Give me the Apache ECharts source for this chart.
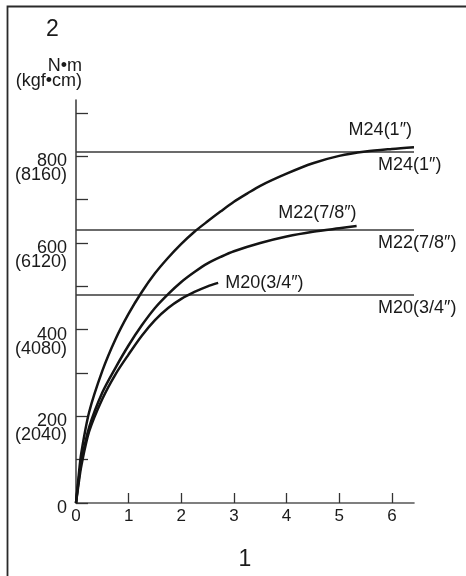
<!DOCTYPE html>
<html>
<head>
<meta charset="utf-8">
<script src="https://cdn.jsdelivr.net/npm/echarts@6/dist/echarts.min.js"></script>
<style>
html,body{margin:0;padding:0;background:#fff;}
#chart{width:466px;height:576px;}
</style>
</head>
<body>
<div id="chart"></div>
<script>
// ---- data ----
const xTicks = [0, 1, 2, 3, 4, 5, 6];
const xMax = 6.42;
const yTicks = [0, 100, 200, 300, 400, 500, 600, 700, 800, 900];
const yLabelValues = [0, 200, 400, 600, 800];
const kgfLabels = ['', '2040', '4080', '6120', '8160'];
const yMax = 930;

const curveNames = ['M24(1″)', 'M22(7/8″)', 'M20(3/4″)'];
const m24X = [0, 0.05, 0.1, 0.25, 0.5, 0.75, 1, 1.25, 1.5, 1.75, 2, 2.25, 2.5, 2.75, 3, 3.25, 3.5, 4, 4.5, 5, 5.5, 6, 6.42];
const m24Y = [0, 62, 115, 210, 305, 378, 437, 487, 530, 566, 598, 626, 650, 673, 695, 714, 732, 760, 784, 801, 811, 817, 821];
const m22X = [0, 0.05, 0.1, 0.25, 0.5, 0.75, 1, 1.25, 1.5, 1.75, 2, 2.25, 2.5, 2.75, 3, 3.5, 4, 4.5, 5, 5.33];
const m22Y = [0, 52, 95, 175, 255, 312, 364, 410, 450, 482, 510, 533, 553, 568, 581, 600, 615, 626, 634, 639];
const m20X = [0, 0.05, 0.1, 0.25, 0.5, 0.75, 1, 1.25, 1.5, 1.75, 2, 2.25, 2.5, 2.7];
const m20Y = [0, 45, 85, 165, 240, 297, 343, 386, 422, 450, 471, 487, 500, 508];

const limitNames = ['M24(1″)', 'M22(7/8″)', 'M20(3/4″)'];
const limitValues = [810, 630, 480];

const xTitle = '1';
const yTitle = 'N•m\n(kgf•cm)';
const chartTitle = '2';

// ---- build ----
const FONT = '"Liberation Sans", Arial, sans-serif';
const TXT = '#1a1a1a';
const zip = (xs, ys) => xs.map((x, i) => [x, ys[i]]);

const curveSets = [zip(m24X, m24Y), zip(m22X, m22Y), zip(m20X, m20Y)];
const curveLabelStyles = [
  { align: 'right', verticalAlign: 'bottom', distance: 0, padding: [0, 2, 8, 0] },
  { align: 'right', verticalAlign: 'bottom', distance: 0, padding: [0, 0, 4, 0] },
  { align: 'left', verticalAlign: 'middle', distance: 7, padding: [0, 0, 3, 0] }
];

const series = [];
curveSets.forEach((d, i) => {
  series.push({
    type: 'line', name: curveNames[i], data: d,
    smooth: 0.3, showSymbol: false, symbol: 'none',
    lineStyle: { color: '#141414', width: 2.5 },
    silent: true, z: 3,
    endLabel: Object.assign({
      show: true, formatter: curveNames[i],
      color: TXT, fontFamily: FONT, fontSize: 18
    }, curveLabelStyles[i])
  });
});
limitValues.forEach((v, i) => {
  series.push({
    type: 'line', name: limitNames[i] + ' limit', data: [[0, v], [xMax, v]],
    showSymbol: false, symbol: 'none',
    lineStyle: { color: '#3a3a3a', width: 1.3 },
    silent: true, z: 2,
    endLabel: {
      show: true, formatter: limitNames[i],
      color: TXT, fontFamily: FONT, fontSize: 18,
      align: 'left', verticalAlign: 'top', distance: -36, padding: [4, 0, 0, 0]
    }
  });
});

const chart = echarts.init(document.getElementById('chart'), null, { renderer: 'canvas' });
chart.setOption({
  animation: false,
  backgroundColor: '#fff',
  title: {
    text: chartTitle, left: 41, top: 13,
    textStyle: { fontFamily: FONT, fontSize: 23, fontWeight: 'normal', color: TXT }
  },
  graphic: [{
    type: 'rect', left: 5, top: 4, z: -1,
    shape: { width: 700, height: 800 },
    style: { fill: 'none', stroke: '#2a2a2a', lineWidth: 1.8 }
  }],
  grid: { left: 76, right: 52, top: 100, bottom: 72.5, containLabel: false },
  xAxis: {
    type: 'value', min: 0, max: xMax,
    name: xTitle, nameLocation: 'middle', nameGap: 45,
    nameTextStyle: { fontFamily: FONT, fontSize: 23, color: TXT },
    axisLine: { show: true, lineStyle: { color: '#555', width: 1.6 } },
    axisTick: { show: true, inside: true, length: 10, customValues: xTicks, lineStyle: { color: '#333', width: 1.3 } },
    axisLabel: { customValues: xTicks, margin: 5, fontFamily: FONT, fontSize: 17, color: TXT },
    splitLine: { show: false }
  },
  yAxis: {
    type: 'value', min: 0, max: yMax,
    name: yTitle, nameLocation: 'end', nameGap: 11,
    nameTextStyle: { fontFamily: FONT, fontSize: 18, color: TXT, align: 'right', verticalAlign: 'bottom', lineHeight: 15, padding: [0, -6, 0, 0] },
    axisLine: { show: true, lineStyle: { color: '#444', width: 1.6 } },
    axisTick: { show: true, inside: true, length: 12, customValues: yTicks, lineStyle: { color: '#333', width: 1.3 } },
    axisLabel: {
      customValues: yLabelValues, margin: 9,
      fontFamily: FONT, fontSize: 18, color: TXT, lineHeight: 14,
      align: 'right', verticalAlign: 'top', padding: [-2, 0, 0, 0],
      formatter: (v) => {
        const k = yLabelValues.indexOf(v);
        return v === 0 ? '0' : v + '\n(' + kgfLabels[k] + ')';
      }
    },
    splitLine: { show: false }
  },
  series: series
});
</script>
</body>
</html>
